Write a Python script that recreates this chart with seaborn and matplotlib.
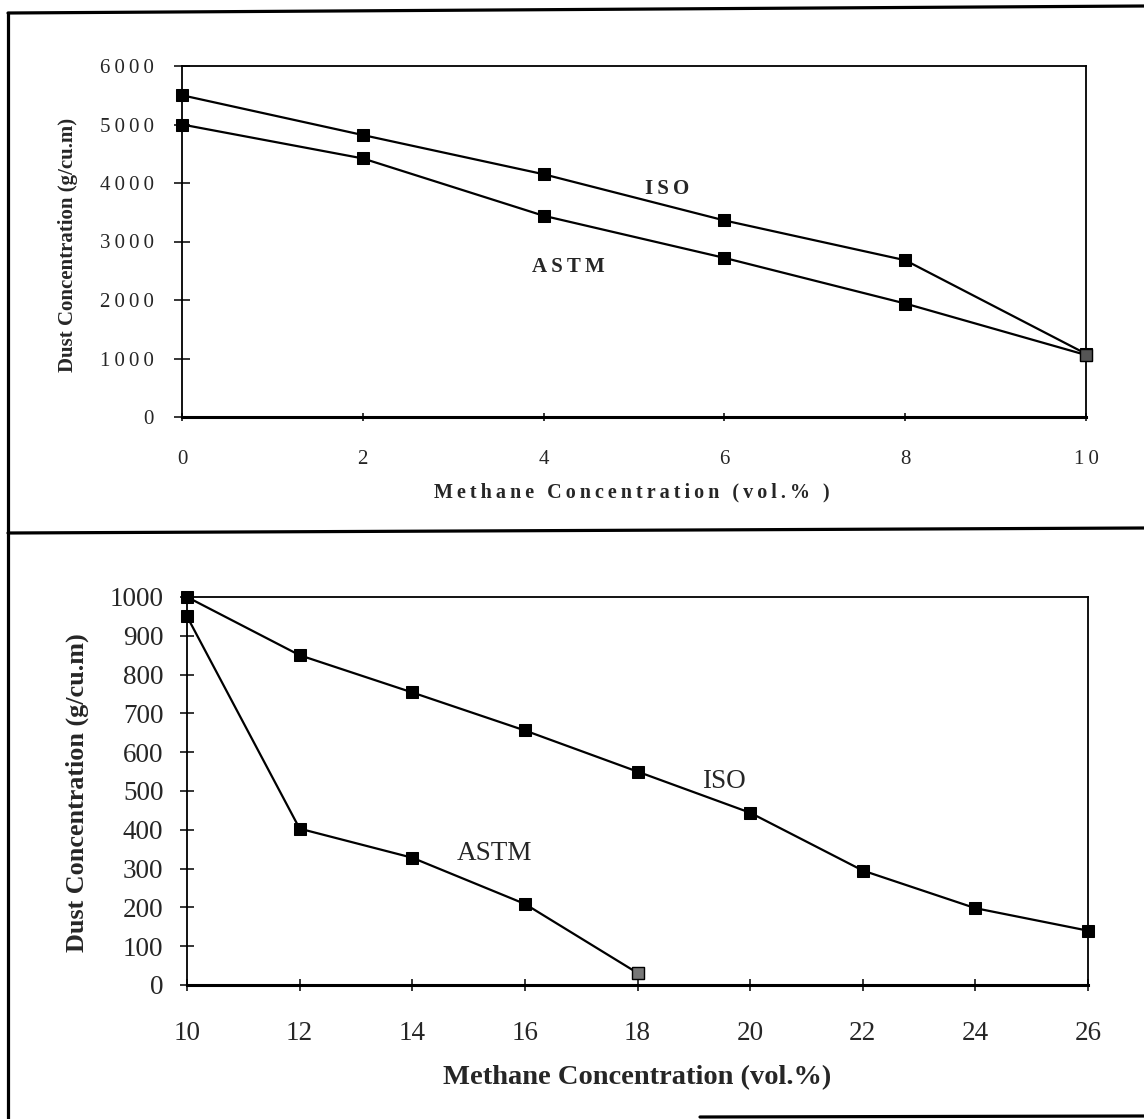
import pandas as pd
import seaborn as sns
import matplotlib.pyplot as plt
from matplotlib.lines import Line2D
from matplotlib.ticker import FuncFormatter

# upper panel: methane 0-10 vol.%
top_methane = [0, 2, 4, 6, 8, 10]
top_iso = [5500, 4820, 4150, 3360, 2680, 1080]
top_astm = [5000, 4420, 3440, 2720, 1940, 1060]
top_xticks = [0, 2, 4, 6, 8, 10]
top_yticks = [0, 1000, 2000, 3000, 4000, 5000, 6000]

# lower panel: methane 10-26 vol.%
low_methane_iso = [10, 12, 14, 16, 18, 20, 22, 24, 26]
low_iso = [1000, 850, 754, 656, 550, 444, 295, 198, 140]
low_methane_astm = [10, 12, 14, 16, 18]
low_astm = [950, 403, 328, 209, 31]
low_xticks = [10, 12, 14, 16, 18, 20, 22, 24, 26]
low_yticks = [0, 100, 200, 300, 400, 500, 600, 700, 800, 900, 1000]

sns.set_style("white")
plt.rcParams['font.family'] = ['Liberation Serif', 'DejaVu Serif']
plt.rcParams['mathtext.default'] = 'regular'

HS = '\u2009'  # thin space, used to mimic the letter spacing of the top panel


def spaced(s):
    return HS.join(list(s))


W, H = 1144, 1119
fig = plt.figure(figsize=(W / 100, H / 100), dpi=100)


def px_axes(left, top, right, bottom):
    return fig.add_axes([left / W, 1 - bottom / H, (right - left) / W, (bottom - top) / H])


def style_axes(ax, lw_side=1.3, lw_bottom=2.2):
    for side in ['left', 'right', 'top']:
        ax.spines[side].set_color('black')
        ax.spines[side].set_linewidth(lw_side)
    ax.spines['bottom'].set_color('black')
    ax.spines['bottom'].set_linewidth(lw_bottom)


def draw_series(ax, xs, ys):
    df = pd.DataFrame({'x': xs, 'y': ys})
    sns.lineplot(data=df, x='x', y='y', ax=ax, color='black', lw=1.6,
                 marker='s', markersize=9, markeredgecolor='black',
                 markerfacecolor='black', clip_on=False, zorder=3)


# ---- top panel
ax1 = px_axes(182, 66, 1086, 417)
draw_series(ax1, top_methane, top_iso)
draw_series(ax1, top_methane, top_astm)
# grey stippled marker where the two series meet
ax1.plot(top_methane[-1:], top_astm[-1:], 's', ms=9, mfc='#555555', mec='black',
         clip_on=False, zorder=4)
ax1.set_xlim(0, 10)
ax1.set_ylim(0, 6000)
ax1.set_xticks(top_xticks)
ax1.set_yticks(top_yticks)
ax1.xaxis.set_major_formatter(FuncFormatter(lambda v, p: spaced(f"{v:g}")))
ax1.yaxis.set_major_formatter(FuncFormatter(lambda v, p: spaced(f"{v:g}")))
ax1.tick_params(axis='y', direction='inout', length=11, width=1.3, pad=15,
                labelsize=15, left=True)
ax1.tick_params(axis='x', direction='inout', length=6, width=1.3, pad=21,
                labelsize=15, bottom=True)
style_axes(ax1)
ax1.set_xlabel(spaced("Methane Concentration (vol.% )"), fontsize=14.5,
               fontweight='bold')
ax1.xaxis.set_label_coords(0.498, -0.216)
ax1.xaxis.label.set_va('center')
ax1.set_ylabel("Dust Concentration (g/cu.m)", fontsize=15, fontweight='bold')
ax1.yaxis.set_label_coords(-0.126, 0.49)
ax1.yaxis.label.set_va('center')
ax1.text(5.37, 3890, spaced("ISO"), fontsize=15, fontweight='bold',
         ha='center', va='center')
ax1.text(4.27, 2570, spaced("ASTM"), fontsize=15, fontweight='bold',
         ha='center', va='center')

# ---- bottom panel
ax2 = px_axes(187, 597, 1088, 985)
draw_series(ax2, low_methane_iso, low_iso)
draw_series(ax2, low_methane_astm, low_astm)
ax2.plot(low_methane_astm[-1:], low_astm[-1:], 's', ms=9, mfc='#777777', mec='black',
         clip_on=False, zorder=4)
ax2.set_xlim(10, 26)
ax2.set_ylim(0, 1000)
ax2.set_xticks(low_xticks)
ax2.set_yticks(low_yticks)
ax2.tick_params(axis='y', direction='inout', length=10, width=1.3, pad=12,
                labelsize=19.5, left=True)
ax2.tick_params(axis='x', direction='inout', length=8, width=1.3, pad=22,
                labelsize=19.5, bottom=True)
style_axes(ax2)
ax2.set_xlabel("Methane Concentration (vol.%)", fontsize=20.5, fontweight='bold')
ax2.xaxis.set_label_coords(0.50, -0.238)
ax2.xaxis.label.set_va('center')
ax2.set_ylabel("Dust Concentration (g/cu.m)", fontsize=18.8, fontweight='bold')
ax2.yaxis.set_label_coords(-0.122, 0.496)
ax2.yaxis.label.set_va('center')
ax2.text(19.54, 525, "ISO", fontsize=19.5, ha='center', va='center')
ax2.text(15.46, 339, "ASTM", fontsize=19.5, ha='center', va='center')

# ---- page frame of the scanned figure
frame_kw = dict(color='black', lw=2.3, transform=fig.transFigure)
fig.add_artist(Line2D([8 / W, 8 / W], [1 - 13 / H, 0], **frame_kw))
fig.add_artist(Line2D([8 / W, 1], [1 - 13 / H, 1 - 6 / H], **frame_kw))
fig.add_artist(Line2D([8 / W, 1], [1 - 533 / H, 1 - 528 / H], **frame_kw))
fig.add_artist(Line2D([700 / W, 1], [1 - 1117 / H, 1 - 1116 / H], **frame_kw))

fig.savefig("out.png", dpi=100, facecolor='white')
